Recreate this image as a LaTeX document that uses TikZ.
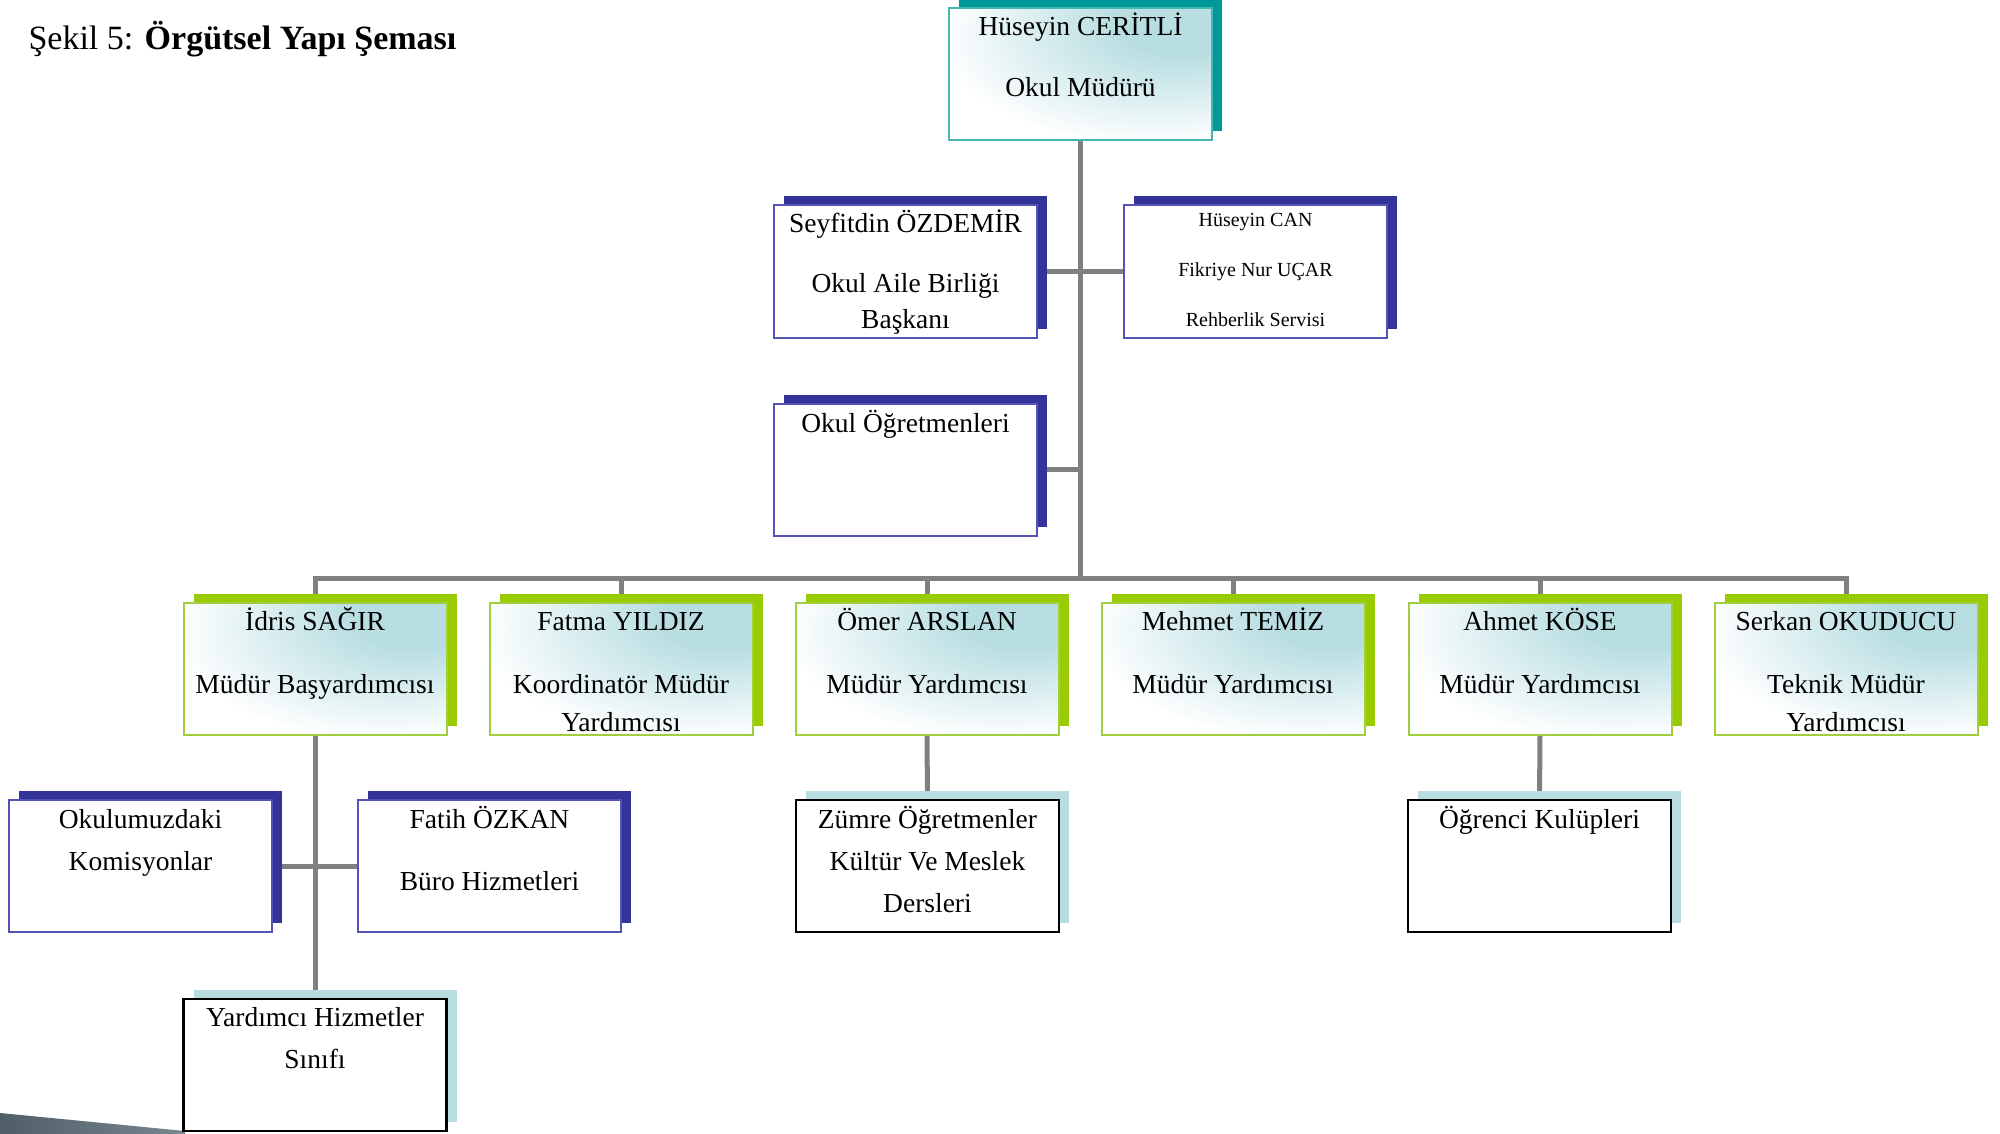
\documentclass[tikz,border=0pt]{standalone}
\usepackage{fontspec}
\setmainfont{Liberation Serif}
\usetikzlibrary{shadows}
\definecolor{tealborder}{RGB}{70,182,176}
\definecolor{tealshadow}{RGB}{0,153,153}
\definecolor{grad}{RGB}{184,222,226}
\definecolor{greenborder}{RGB}{160,206,60}
\definecolor{greenshadow}{RGB}{153,204,0}
\definecolor{blueborder}{RGB}{84,84,184}
\definecolor{blueshadow}{RGB}{51,51,153}
\definecolor{lightshadow}{RGB}{183,221,224}
\definecolor{conngray}{RGB}{128,128,128}
\definecolor{banddark}{RGB}{80,94,104}
\definecolor{bandlight}{RGB}{120,134,144}
\pgfdeclareradialshading{tealglow}{\pgfpoint{22bp}{22bp}}{color(0bp)=(grad); color(12bp)=(grad); color(40bp)=(white); color(100bp)=(white)}
\pgfdeclarelayer{bg}
\pgfsetlayers{bg,main}
\newcommand\bt[2]{\parbox[c][132pt][t]{263pt}{\centering\rule{0pt}{#1}#2\par}}
\tikzset{
  basebox/.style={rectangle, inner sep=0pt, outer sep=0pt, line width=2pt,
    font=\fontsize{27.5}{38}\selectfont},
  shadowc/.style={drop shadow={shadow xshift=10pt, shadow yshift=9pt, fill=#1, opacity=1}},
  gradfill/.style={shade, shading=tealglow},
  tealbox/.style={basebox, draw=tealborder, gradfill, shadowc=tealshadow},
  greenbox/.style={basebox, draw=greenborder, gradfill, shadowc=greenshadow},
  bluebox/.style={basebox, draw=blueborder, fill=white, shadowc=blueshadow},
  blackbox/.style={basebox, draw=black, line width=2.5pt, fill=white, shadowc=lightshadow,
    font=\fontsize{27.5}{42}\selectfont},
  conn/.style={draw=conngray, line width=5pt},
}
\begin{document}
\begin{tikzpicture}[x=1pt,y=-1pt]
\useasboundingbox (0,0) rectangle (2000,1134);

\node[anchor=base west, font=\fontsize{34}{40}\selectfont] (title) at (25,50)
  {Şekil 5: \textbf{Örgütsel Yapı Şeması}};

\node[tealbox] (mudur) at (1080.5,74) {\bt{28pt}{Hüseyin CERİTLİ\\[23pt]Okul Müdürü}};

\node[bluebox, font=\fontsize{27.5}{36}\selectfont] (seyfi) at (905.5,271.5)
  {\bt{27pt}{Seyfitdin ÖZDEMİR\\[24pt]Okul Aile Birliği\\Başkanı}};
\node[bluebox, font=\fontsize{20}{50}\selectfont] (can) at (1255.5,271.5)
  {\bt{21pt}{Hüseyin CAN\\Fikriye Nur UÇAR\\Rehberlik Servisi}};
\node[bluebox] (ogret) at (905.5,469.5) {\bt{29pt}{Okul Öğretmenleri}};

\node[greenbox] (idris) at (315,668.5) {\bt{28pt}{İdris SAĞIR\\[25pt]Müdür Başyardımcısı}};
\node[greenbox] (fatma) at (621,668.5) {\bt{28pt}{Fatma YILDIZ\\[25pt]Koordinatör Müdür\\Yardımcısı}};
\node[greenbox] (omer) at (927,668.5) {\bt{28pt}{Ömer ARSLAN\\[25pt]Müdür Yardımcısı}};
\node[greenbox] (mehmet) at (1233,668.5) {\bt{28pt}{Mehmet TEMİZ\\[25pt]Müdür Yardımcısı}};
\node[greenbox] (ahmet) at (1540,668.5) {\bt{28pt}{Ahmet KÖSE\\[25pt]Müdür Yardımcısı}};
\node[greenbox] (serkan) at (1846,668.5) {\bt{28pt}{Serkan OKUDUCU\\[25pt]Teknik Müdür\\Yardımcısı}};

\node[bluebox, font=\fontsize{27.5}{42}\selectfont] (komisyon) at (140.5,866)
  {\bt{28pt}{Okulumuzdaki\\Komisyonlar}};
\node[bluebox, font=\fontsize{27.5}{42}\selectfont] (fatih) at (489.5,866)
  {\bt{28pt}{Fatih ÖZKAN\\[20pt]Büro Hizmetleri}};
\node[blackbox] (yard) at (315,1065) {\bt{27pt}{Yardımcı Hizmetler\\Sınıfı}};
\node[blackbox] (zumre) at (927.5,866) {\bt{28pt}{Zümre Öğretmenler\\Kültür Ve Meslek\\Dersleri}};
\node[blackbox] (ogrenci) at (1539.5,866) {\bt{28pt}{Öğrenci Kulüpleri}};

\coordinate (bus) at (1080.5,578);

\begin{pgfonlayer}{bg}
\fill[white] (0,0) rectangle (2000,1134);
\shade[left color=banddark, right color=bandlight] (0,1113) -- (185,1131) -- (185,1134) -- (0,1134) -- cycle;
\draw[conn] (mudur.south) -- (bus);
\draw[conn] (idris.north) |- (bus) -| (serkan.north);
\draw[conn] (fatma.north) -- (fatma.north |- bus);
\draw[conn] (omer.north) -- (omer.north |- bus);
\draw[conn] (mehmet.north) -- (mehmet.north |- bus);
\draw[conn] (ahmet.north) -- (ahmet.north |- bus);
\draw[conn] (seyfi.east) -- (can.west);
\draw[conn] (ogret.east) -- (ogret.east -| bus);
\draw[conn] (idris.south) -- (yard.north);
\draw[conn] (komisyon.east) -- (fatih.west);
\draw[conn] (omer.south) -- (zumre.north);
\draw[conn] (ahmet.south) -- (ogrenci.north);
\end{pgfonlayer}
\end{tikzpicture}
\end{document}
